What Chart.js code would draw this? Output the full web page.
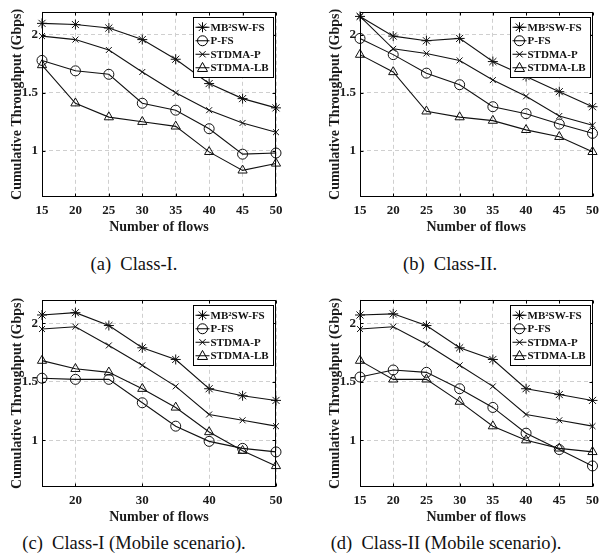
<!DOCTYPE html>
<html><head><meta charset="utf-8">
<script src="https://cdn.jsdelivr.net/npm/chart.js@4.4.1/dist/chart.umd.min.js"></script>
<style>
html,body{margin:0;padding:0;background:#fff;}
body{width:605px;height:557px;position:relative;overflow:hidden;font-family:"Liberation Serif","Times New Roman",serif;}
canvas{position:absolute;}
.cap{position:absolute;font-size:18.5px;line-height:19px;white-space:pre;transform:translateX(-50%);color:#111;}
</style></head><body>
<canvas id="ca" width="300" height="240" style="left:0;top:0;width:300px;height:240px"></canvas>
<canvas id="cb" width="287" height="240" style="left:318px;top:0;width:287px;height:240px"></canvas>
<canvas id="cc" width="300" height="242" style="left:0;top:288px;width:300px;height:242px"></canvas>
<canvas id="cd" width="287" height="242" style="left:318px;top:288px;width:287px;height:242px"></canvas>
<div class="cap" style="left:134px;top:255px">(a)  Class-I.</div>
<div class="cap" style="left:450px;top:255px">(b)  Class-II.</div>
<div class="cap" style="left:134px;top:534px">(c)  Class-I (Mobile scenario).</div>
<div class="cap" style="left:446px;top:534px">(d)  Class-II (Mobile scenario).</div>
<script>
// ---- data ----
const flows = [15,20,25,30,35,40,45,50];
const seriesNames = ['MB\u00B2SW-FS','P-FS','STDMA-P','STDMA-LB'];
const xTicksFull = [15,20,25,30,35,40,45,50];
const xTicksTen = [20,30,40,50];
const yTicks = [1,1.5,2];
const yTickLabels = ['1','1.5','2'];

// (a) Class-I
const classI_MB2SWFS = [2.10,2.09,2.06,1.96,1.79,1.58,1.45,1.37];
const classI_PFS     = [1.78,1.69,1.66,1.41,1.35,1.19,0.97,0.98];
const classI_STDMAP  = [1.99,1.96,1.87,1.68,1.50,1.35,1.24,1.16];
const classI_STDMALB = [1.74,1.41,1.29,1.25,1.21,0.99,0.83,0.89];
// (b) Class-II
const classII_MB2SWFS = [2.16,1.99,1.95,1.97,1.77,1.64,1.51,1.38];
const classII_PFS     = [1.97,1.83,1.67,1.57,1.38,1.32,1.23,1.15];
const classII_STDMAP  = [2.16,1.88,1.84,1.78,1.61,1.47,1.30,1.22];
const classII_STDMALB = [1.83,1.68,1.34,1.29,1.26,1.18,1.12,0.99];
// (c) Class-I mobile
const mobI_MB2SWFS = [2.07,2.09,1.98,1.79,1.69,1.44,1.38,1.34];
const mobI_PFS     = [1.53,1.52,1.52,1.32,1.12,0.99,0.93,0.90];
const mobI_STDMAP  = [1.95,1.97,1.81,1.64,1.46,1.22,1.17,1.12];
const mobI_STDMALB = [1.68,1.61,1.58,1.44,1.28,1.07,0.91,0.78];
// (d) Class-II mobile
const mobII_MB2SWFS = [2.07,2.08,1.98,1.79,1.69,1.44,1.39,1.34];
const mobII_PFS     = [1.54,1.60,1.58,1.44,1.28,1.06,0.92,0.78];
const mobII_STDMAP  = [1.95,1.97,1.82,1.64,1.46,1.22,1.17,1.12];
const mobII_STDMALB = [1.68,1.52,1.52,1.33,1.12,1.00,0.93,0.90];

// ---- styles ----
const markerStyles = ['star','circle','crossRot','triangle'];
const markerRadii = [5,5,4.2,5.3];
const FONT = '"Liberation Serif","Times New Roman",serif';

function drawMarker(ctx, style, r, x, y){
  ctx.beginPath();
  if(style==='circle'){ ctx.arc(x,y,r,0,Math.PI*2); }
  else if(style==='triangle'){
    ctx.moveTo(x, y-r); ctx.lineTo(x+r*0.95, y+r*0.7); ctx.lineTo(x-r*0.95, y+r*0.7); ctx.closePath();
  } else if(style==='crossRot'){
    const d=r*0.75; ctx.moveTo(x-d,y-d);ctx.lineTo(x+d,y+d);ctx.moveTo(x+d,y-d);ctx.lineTo(x-d,y+d);
  } else if(style==='star'){
    const d=r*0.75; ctx.moveTo(x-d,y-d);ctx.lineTo(x+d,y+d);ctx.moveTo(x+d,y-d);ctx.lineTo(x-d,y+d);
    ctx.moveTo(x,y-r);ctx.lineTo(x,y+r);ctx.moveTo(x-r,y);ctx.lineTo(x+r,y);
  }
  ctx.stroke();
}

const framePlugin = {
  id:'frame',
  afterDraw(chart){
    const {ctx, chartArea:a, scales} = chart;
    ctx.save();
    ctx.strokeStyle = '#000'; ctx.lineWidth = 1; ctx.setLineDash([]);
    const L=Math.round(a.left)+0.5, R=Math.round(a.right)-0.5, T=Math.round(a.top)+0.5, B=Math.round(a.bottom)-0.5;
    ctx.strokeRect(L,T,R-L,B-T);
    // inward tick marks
    const tl=3;
    ctx.beginPath();
    scales.x.ticks.forEach(t=>{
      const x=Math.round(scales.x.getPixelForValue(t.value))+0.5;
      ctx.moveTo(x,B); ctx.lineTo(x,B-tl); ctx.moveTo(x,T); ctx.lineTo(x,T+tl);
    });
    scales.y.ticks.forEach(t=>{
      const y=Math.round(scales.y.getPixelForValue(t.value))+0.5;
      ctx.moveTo(L,y); ctx.lineTo(L+tl,y); ctx.moveTo(R,y); ctx.lineTo(R-tl,y);
    });
    ctx.stroke();
    // legend
    ctx.font = 'bold 11px '+FONT;
    const tw = Math.max(...seriesNames.map(n=>ctx.measureText(n).width));
    const bw = Math.round(17 + tw + 5), rowH = 13.5, bh = Math.round(rowH*4+6);
    const bx = Math.round(a.right - 3 - bw)+0.5, by = Math.round(a.top + 5)+0.5;
    ctx.fillStyle='#fff'; ctx.fillRect(bx,by,bw,bh);
    ctx.strokeRect(bx,by,bw,bh);
    chart.data.datasets.forEach((ds,i)=>{
      const cy = by + 3 + rowH*(i+0.5);
      ctx.beginPath(); ctx.moveTo(bx+2,cy); ctx.lineTo(bx+16,cy); ctx.stroke();
      drawMarker(ctx, markerStyles[i], markerRadii[i], bx+9, cy);
      ctx.fillStyle='#111'; ctx.textBaseline='middle'; ctx.textAlign='left';
      ctx.fillText(seriesNames[i], bx+17, cy+0.5);
    });
    ctx.restore();
  }
};

function makeChart(id, seriesList, xTicks, padTop, padRight){
  const datasets = seriesList.map((vals,i)=>({
    label: seriesNames[i],
    data: flows.map((f,j)=>({x:f, y:vals[j]})),
    borderColor:'#111', borderWidth:1.1,
    pointStyle: markerStyles[i], pointRadius: markerRadii[i],
    pointBorderColor:'#111', pointBackgroundColor:'rgba(0,0,0,0)', pointBorderWidth:1,
    tension:0, fill:false, clip:false
  }));
  return new Chart(document.getElementById(id), {
    type:'line',
    data:{datasets},
    options:{
      responsive:false, animation:false,
      layout:{padding:{top:padTop,right:padRight,left:0,bottom:0}},
      plugins:{legend:{display:false}, tooltip:{enabled:false}},
      scales:{
        x:{type:'linear', min:15, max:50,
          afterBuildTicks:s=>{s.ticks = xTicks.map(v=>({value:v}));},
          afterFit:s=>{s.height=43;},
          grid:{color:'#cfcfcf', lineWidth:1, drawTicks:false},
          border:{display:false, dash:[4,3]},
          ticks:{font:{family:FONT, weight:'bold', size:13}, color:'#1a1a1a', padding:6, maxRotation:0, autoSkip:false,
            callback:v=>String(v)},
          title:{display:true, text:'Number of flows', font:{family:FONT, weight:'bold', size:14}, color:'#1a1a1a', padding:{top:0,bottom:4.6}}
        },
        y:{type:'linear', min:0.6, max:2.2,
          afterBuildTicks:s=>{s.ticks = yTicks.map(v=>({value:v}));},
          afterFit:s=>{s.width=42;},
          grid:{color:'#cfcfcf', lineWidth:1, drawTicks:false},
          border:{display:false, dash:[4,3]},
          ticks:{font:{family:FONT, weight:'bold', size:13}, color:'#1a1a1a', padding:4,
            callback:v=>yTickLabels[yTicks.indexOf(v)] ?? ''},
          title:{display:true, text:'Cumulative Throughput (Gbps)', font:{family:FONT, weight:'bold', size:14}, color:'#1a1a1a', padding:{top:8.6,bottom:0}}
        }
      }
    },
    plugins:[framePlugin]
  });
}

makeChart('ca', [classI_MB2SWFS, classI_PFS, classI_STDMAP, classI_STDMALB], xTicksFull, 10, 24);
makeChart('cb', [classII_MB2SWFS, classII_PFS, classII_STDMAP, classII_STDMALB], xTicksFull, 10, 12);
makeChart('cc', [mobI_MB2SWFS, mobI_PFS, mobI_STDMAP, mobI_STDMALB], xTicksTen, 11, 24);
makeChart('cd', [mobII_MB2SWFS, mobII_PFS, mobII_STDMAP, mobII_STDMALB], xTicksFull, 11, 12);
</script>
</body></html>
